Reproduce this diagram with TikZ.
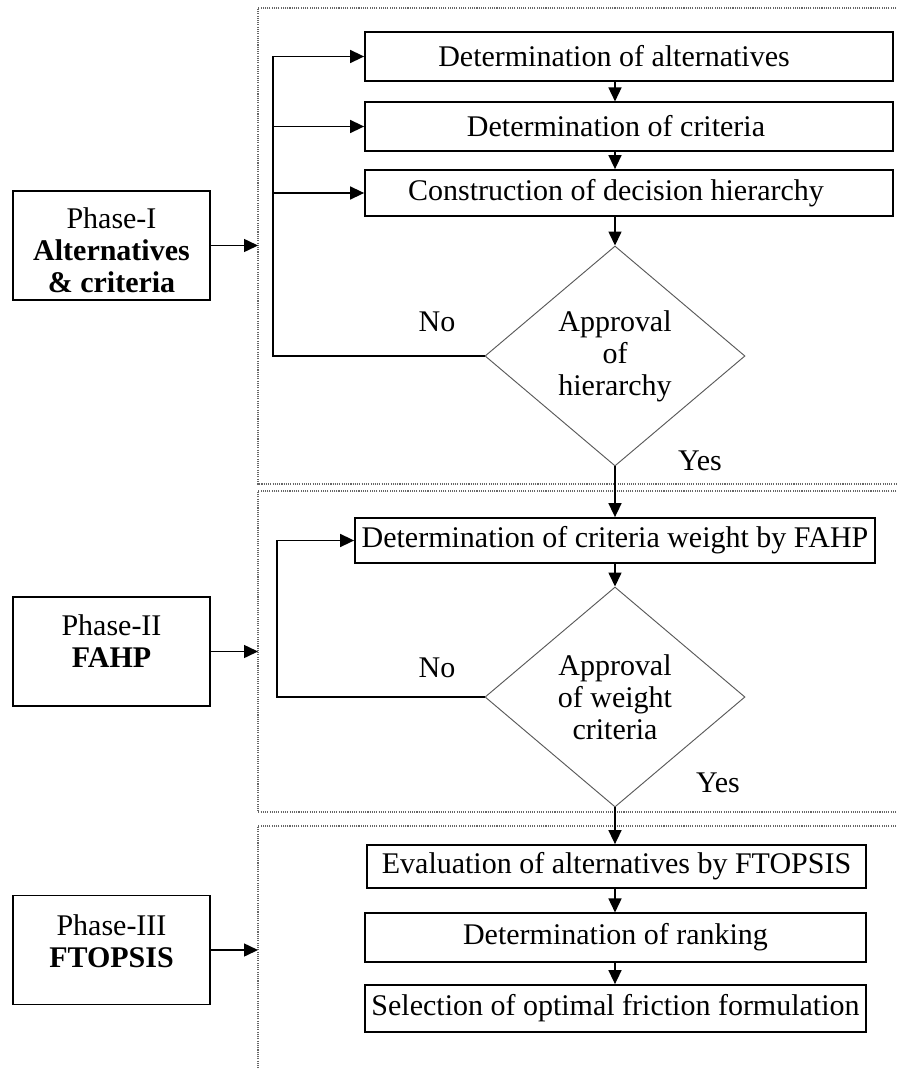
\documentclass[tikz,border=0pt]{standalone}
\usepackage{fontspec}
\setmainfont{Liberation Serif}
\usetikzlibrary{arrows.meta,shapes.geometric}

\begin{document}
\begin{tikzpicture}[x = 0.03cm, y = -0.03cm,
  every node/.style = {font=\fontsize{25.6}{27.3}\selectfont},
  stepbox/.style = {draw, line width=1.5pt, inner sep=0pt, minimum height=1.45cm},
  phasebox/.style = {draw, line width=1.5pt, inner sep=0pt,
    minimum width=5.91cm, minimum height=3.27cm},
  check/.style = {draw=black!65, line width=0.8pt, diamond, inner sep=0pt, align=center,
    minimum width=7.8cm, minimum height=6.6cm},
  frame/.style = {draw=black!60, densely dotted, line width=0.9pt},
  arr/.style = {-{Triangle[length=4.2mm,width=3.9mm]}, line width=1.3pt}]
\useasboundingbox (0,0) rectangle (896,1068);
% dotted frames of the three phases
\draw [frame] (896,8) -- (258,8) -- (258,484) -- (896,484);
\draw [frame] (896,491) -- (258,491) -- (258,812) -- (896,812);
\draw [frame] (896,826) -- (258,826) -- (258,1068);
% phase I
\node [stepbox, minimum width=15.84cm] (alt) at (629,56.5) {};
\node at (614,56.5) {Determination of alternatives};
\node [stepbox, minimum width=15.84cm] (crit) at (629,126.5) {};
\node at (616,126.5) {Determination of criteria};
\node [stepbox, minimum width=15.84cm, minimum height=1.38cm] (hier) at (629,193) {};
\node at (616,193) {Construction of decision hierarchy};
\node [check] (okhier) at (615,356) {Approval\\of\\hierarchy};
\node (no1) at (437,322) {No};
\node (yes1) at (700,461) {Yes};
\coordinate (loop1) at (273,356);
\draw [arr] (alt.south -| okhier.north) -- (crit.north -| okhier.north);
\draw [arr] (crit.south -| okhier.north) -- (hier.north -| okhier.north);
\draw [arr] (hier.south -| okhier.north) -- (okhier.north);
\draw [arr] (okhier.west) -- (loop1) |- (alt.west);
\draw [arr] (loop1 |- crit.west) -- (crit.west);
\draw [arr] (loop1 |- hier.west) -- (hier.west);
\node [phasebox] (ph1) at (111.5,245.5) {};
\node [align=center] at (111.5,250) {Phase-I\\\textbf{Alternatives}\\\textbf{\& criteria}};
\coordinate (in1) at (258,245.5);
\draw [arr] (ph1.east) -- (in1);
% phase II
\node [stepbox, minimum width=15.6cm, minimum height=1.35cm] (wt) at (615,540.5) {Determination of criteria weight by FAHP};
\node [check] (okwt) at (615,697) {Approval\\of weight\\criteria};
\node (no2) at (437,668) {No};
\node (yes2) at (718,783) {Yes};
\coordinate (loop2) at (277,697);
\draw [arr] (okhier.south) -- (wt.north);
\draw [arr] (wt.south) -- (okwt.north);
\draw [arr] (okwt.west) -- (loop2) |- (wt.west);
\node [phasebox] (ph2) at (111.5,651.5) {};
\node [align=center] at (111.5,641) {Phase-II\\\textbf{FAHP}};
\coordinate (in2) at (258,651.5);
\draw [arr] (ph2.east) -- (in2);
% phase III
\node [stepbox, minimum width=14.97cm, minimum height=1.29cm] (eval) at (616.5,866.5) {Evaluation of alternatives by FTOPSIS};
\node [stepbox, minimum width=15.03cm] (rank) at (615.5,937.5) {Determination of ranking};
\node [stepbox, minimum width=15.03cm, minimum height=1.41cm] (sel) at (615.5,1008.5) {Selection of optimal friction formulation};
\draw [arr] (okwt.south) -- (okwt.south |- eval.north);
\draw [arr] (eval.south -| okwt.south) -- (rank.north -| okwt.south);
\draw [arr] (rank.south -| okwt.south) -- (sel.north -| okwt.south);
\node [phasebox] (ph3) at (111.5,950) {};
\node [align=center] at (111.5,941) {Phase-III\\\textbf{FTOPSIS}};
\coordinate (in3) at (258,950);
\draw [arr] (ph3.east) -- (in3);
\end{tikzpicture}
\end{document}
